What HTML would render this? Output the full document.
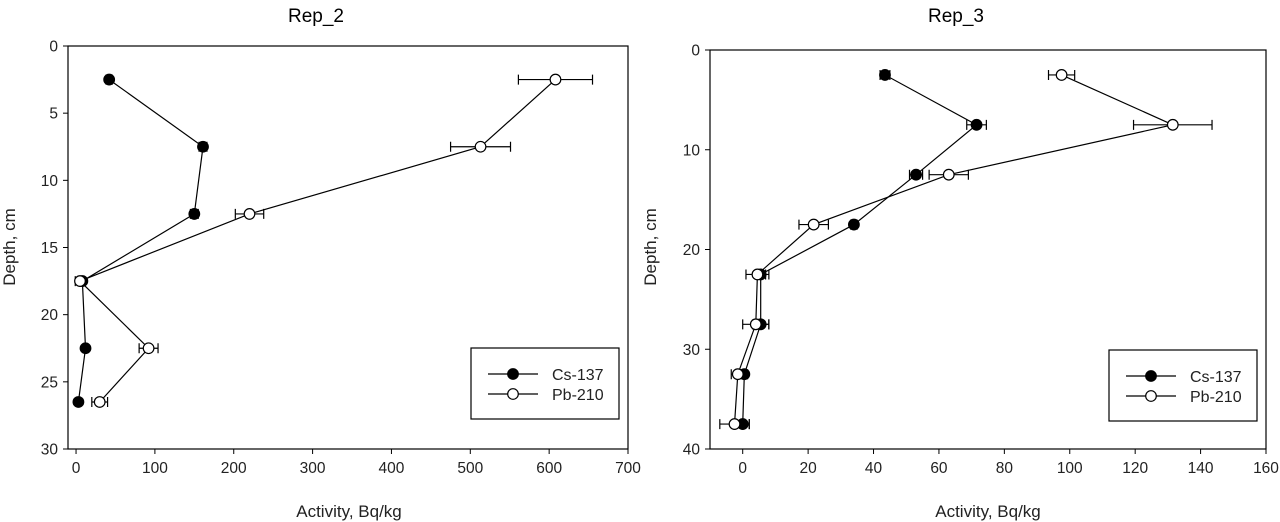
<!DOCTYPE html>
<html><head><meta charset="utf-8"><style>
body{margin:0;background:#fff;}
svg{display:block;font-family:"Liberation Sans",Arial,sans-serif;}
</style></head><body>
<svg id="chart" width="1280" height="522" viewBox="0 0 1280 522"></svg>
<script>
const depths2 = [2.5, 7.5, 12.5, 17.5, 22.5, 26.5];
const cs2 = [42, 161, 150, 8, 12, 3];
const cs2Err = [4, 5, 5, 3, 3, 3];
const pb2 = [608, 513, 220, 5, 92, 30];
const pb2Err = [47, 38, 18, 6, 12, 10];
const depths3 = [2.5, 7.5, 12.5, 17.5, 22.5, 27.5, 32.5, 37.5];
const cs3 = [43.5, 71.5, 53, 34, 5.5, 5.5, 0.5, 0];
const cs3Err = [1.5, 3, 2, 1, 1.5, 2.5, 1, 2];
const pb3 = [97.5, 131.5, 63, 21.7, 4.5, 4, -1.5, -2.5];
const pb3Err = [4, 12, 6, 4.5, 3.5, 4, 2, 4.5];
const xTicks2 = [0, 100, 200, 300, 400, 500, 600, 700];
const yTicks2 = [0, 5, 10, 15, 20, 25, 30];
const xTicks3 = [0, 20, 40, 60, 80, 100, 120, 140, 160];
const yTicks3 = [0, 10, 20, 30, 40];

const svg = document.getElementById('chart');
const NS = 'http://www.w3.org/2000/svg';
function mk(tag, attrs, parent) {
  const e = document.createElementNS(NS, tag);
  for (const k in attrs) e.setAttribute(k, attrs[k]);
  (parent || svg).appendChild(e);
  return e;
}

function panel(cfg) {
  const g = mk('g', {});
  
  
  const sx = v => cfg.fx0 + (v - cfg.xmin) / (cfg.xmax - cfg.xmin) * (cfg.fx1 - cfg.fx0);
  const sy = v => cfg.fy0 + (v - cfg.ymin) / (cfg.ymax - cfg.ymin) * (cfg.fy1 - cfg.fy0);
  const frame = mk('rect', {x: cfg.fx0, y: cfg.fy0, width: cfg.fx1 - cfg.fx0, height: cfg.fy1 - cfg.fy0, fill: 'none', stroke: '#000', 'stroke-width': 1.2}, g);
  
  
  const t = mk('text', {x: cfg.titleX, y: 22, 'font-size': 19, 'text-anchor': 'middle'}, g);
  t.textContent = cfg.title;
  
  
  cfg.xTicks.forEach(v => {
    const x = sx(v);
    mk('line', {x1: x, x2: x, y1: cfg.fy1, y2: cfg.fy1 + 5, stroke: '#000'}, g);
    const l = mk('text', {x: x, y: cfg.fy1 + 24, 'font-size': 15.5, 'text-anchor': 'middle', fill: '#222'}, g);
    l.textContent = v;
    
    
  });
  cfg.yTicks.forEach(v => {
    const y = sy(v);
    mk('line', {x1: cfg.fx0 - 5, x2: cfg.fx0, y1: y, y2: y, stroke: '#000'}, g);
    const l = mk('text', {x: cfg.fx0 - 10, y: y + 5.5, 'font-size': 15.5, 'text-anchor': 'end', fill: '#222'}, g);
    l.textContent = v;
    
    
  });
  const xt = mk('text', {x: cfg.xTitleX, y: 517, 'font-size': 17, 'text-anchor': 'middle', fill: '#222'}, g);
  xt.textContent = 'Activity, Bq/kg';
  
  
  const yt = mk('text', {x: 0, y: 0, 'font-size': 17, 'text-anchor': 'middle', fill: '#222', transform: `translate(${cfg.yTitleX},247) rotate(-90)`}, g);
  yt.textContent = 'Depth, cm';
  
  

  function series(vals, errs, filled, nm) {
    const pts = vals.map((v, i) => sx(v) + ',' + sy(cfg.depths[i])).join(' ');
    const pl = mk('polyline', {points: pts, fill: 'none', stroke: '#000', 'stroke-width': 1.2}, g);
    
    
    vals.forEach((v, i) => {
      const y = sy(cfg.depths[i]);
      const a = sx(v - errs[i]), b = sx(v + errs[i]);
      const eb = mk('path', {d: `M${a},${y}H${b}M${a},${y-5}V${y+5}M${b},${y-5}V${y+5}`, stroke: '#000', 'stroke-width': 1.2, fill: 'none'}, g);
      
      
    });
    vals.forEach((v, i) => {
      const c = mk('circle', {cx: sx(v), cy: sy(cfg.depths[i]), r: 5.3, fill: filled ? '#000' : '#fff', stroke: '#000', 'stroke-width': 1.2}, g);
      
      
    });
  }
  series(cfg.cs, cfg.csErr, true, 'cs-137');
  series(cfg.pb, cfg.pbErr, false, 'pb-210');

  const lg = mk('g', {}, g);
  
  
  const L = cfg.legend;
  mk('rect', {x: L.x, y: L.y, width: 148, height: 71, fill: '#fff', stroke: '#000', 'stroke-width': 1.2}, lg);
  [['Cs-137', true, 26], ['Pb-210', false, 46]].forEach(([lab, f, dy]) => {
    const e = mk('g', {}, lg);
    
    
    mk('line', {x1: L.x + 17, x2: L.x + 67, y1: L.y + dy, y2: L.y + dy, stroke: '#000', 'stroke-width': 1.2}, e);
    mk('circle', {cx: L.x + 42, cy: L.y + dy, r: 5.3, fill: f ? '#000' : '#fff', stroke: '#000', 'stroke-width': 1.2}, e);
    const tx = mk('text', {x: L.x + 81, y: L.y + dy + 6, 'font-size': 16, fill: '#222'}, e);
    tx.textContent = lab;
  });
}

panel({name: 'rep-2-panel', title: 'Rep_2', titleX: 316, xTitleX: 349, yTitleX: 15,
  fx0: 68, fx1: 628, fy0: 46, fy1: 449, xmin: -10.2, xmax: 700, ymin: 0, ymax: 30,
  xTicks: xTicks2, yTicks: yTicks2, depths: depths2, cs: cs2, csErr: cs2Err, pb: pb2, pbErr: pb2Err,
  legend: {x: 471, y: 348}});
panel({name: 'rep-3-panel', title: 'Rep_3', titleX: 956, xTitleX: 988, yTitleX: 656,
  fx0: 710, fx1: 1266, fy0: 50, fy1: 449, xmin: -10, xmax: 160, ymin: 0, ymax: 40,
  xTicks: xTicks3, yTicks: yTicks3, depths: depths3, cs: cs3, csErr: cs3Err, pb: pb3, pbErr: pb3Err,
  legend: {x: 1109, y: 350}});
</script>
</body></html>
